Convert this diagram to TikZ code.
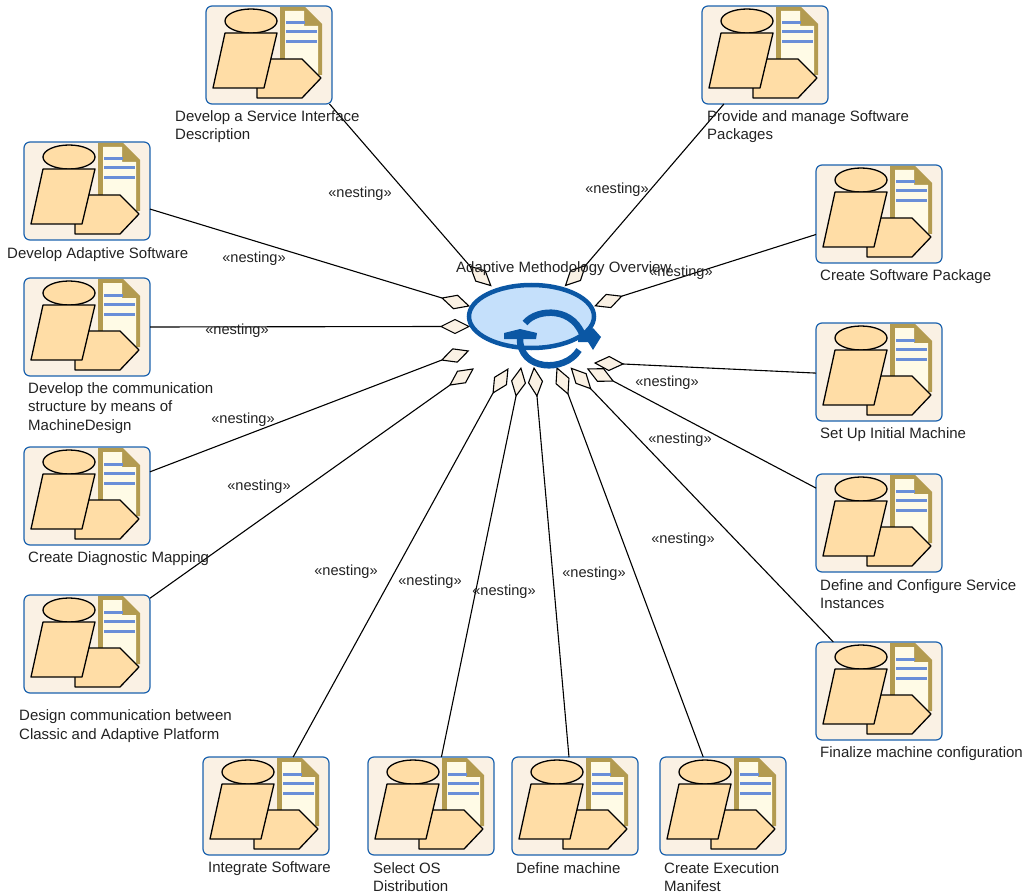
\documentclass[tikz,border=0pt]{standalone}
\usepackage{fontspec}
\setmainfont{Liberation Sans}
\usetikzlibrary{shapes.geometric}
\definecolor{boxfill}{HTML}{FAF1E4}
\definecolor{boxline}{HTML}{1B62AE}
\definecolor{peach}{HTML}{FFDDA6}
\definecolor{doctan}{HTML}{B39B50}
\definecolor{doccream}{HTML}{FFFBE6}
\definecolor{docblue}{HTML}{6A8FD8}
\definecolor{ovalfill}{HTML}{C5E0FB}
\definecolor{ovalline}{HTML}{0B57A4}
\definecolor{labeltext}{HTML}{222222}
\tikzset{
	taskbox/.style={draw=boxline, fill=boxfill, line width=1.2pt, rounded corners=6pt, anchor=north west, minimum width=126pt, minimum height=98pt, inner sep=0pt, outer sep=0pt},
	nestdiamond/.style={draw=black, fill=boxfill, diamond, line width=1.1pt, minimum width=28pt, minimum height=14pt, inner sep=0pt, outer sep=0pt},
	tasklabel/.style={anchor=west, align=left, inner sep=0pt, yshift=-1.8pt, text=labeltext, font=\fontsize{15}{18.5}\selectfont},
	nestlabel/.style={inner sep=0pt, yshift=-1.8pt, text=labeltext, font=\fontsize{14.6}{18.5}\selectfont},
	conn/.style={draw=black, line width=1.1pt},
	iconline/.style={draw=black, fill=peach, line width=1.3pt, line join=round}}

\begin{document}
\begin{tikzpicture}[x=1pt, y=-1pt]
		\useasboundingbox (0,0) rectangle (1030,893);
		
		%boxes
		\node[taskbox] (service) at (206,6) {};
		\node[taskbox] (provide) at (702,6) {};
		\node[taskbox] (adaptive) at (24,142) {};
		\node[taskbox] (pkg) at (816,165) {};
		\node[taskbox] (comm) at (24,278) {};
		\node[taskbox] (setup) at (816,323) {};
		\node[taskbox] (diag) at (24,447) {};
		\node[taskbox] (instances) at (816,474) {};
		\node[taskbox] (classic) at (24,595) {};
		\node[taskbox] (finalize) at (816,642) {};
		\node[taskbox] (integrate) at (203,757) {};
		\node[taskbox] (osdist) at (368,757) {};
		\node[taskbox] (machine) at (512,757) {};
		\node[taskbox] (manifest) at (660,757) {};
		
		%icons
		\foreach \n in {service,provide,adaptive,pkg,comm,setup,diag,instances,classic,finalize,integrate,osdist,machine,manifest}{
			\begin{scope}[shift={(\n.north west)}]
				\fill[doctan] (74,1) -- (99,1) -- (116,18) -- (116,69) -- (74,69) -- cycle;
				\fill[doccream] (79,5) -- (98,5) -- (98,20) -- (112,20) -- (112,69) -- (79,69) -- cycle;
				\draw[docblue, line width=3pt] (80,17) -- (99,17) (80,26) -- (111,26) (80,36) -- (111,36);
				\draw[iconline] (51,53) -- (96,53) -- (115,72) -- (96,92) -- (51,92) -- cycle;
				\draw[iconline] (45,15) ellipse [x radius=26, y radius=12];
				\draw[iconline] (19,27) -- (71,27) -- (58,82) -- (7,82) -- cycle;
			\end{scope}
		}
		
		%diamonds
		\node[nestdiamond, rotate=-43] (serviceD) at (480.5,276) {};
		\node[nestdiamond, rotate=225] (provideD) at (575.5,275.5) {};
		\node[nestdiamond, rotate=-16.5] (adaptiveD) at (455.5,302) {};
		\node[nestdiamond, rotate=200] (pkgD) at (608.5,301) {};
		\node[nestdiamond] (commD) at (455,326.5) {};
		\node[nestdiamond, rotate=178] (setupD) at (609,363.5) {};
		\node[nestdiamond, rotate=19] (diagD) at (455,355.5) {};
		\node[nestdiamond, rotate=154.4] (instancesD) at (600.5,375) {};
		\node[nestdiamond, rotate=35] (classicD) at (461.5,377) {};
		\node[nestdiamond, rotate=133.5] (finalizeD) at (581,378.5) {};
		\node[nestdiamond, rotate=58] (integrateD) at (500.5,381) {};
		\node[nestdiamond, rotate=80] (osdistD) at (518.5,382) {};
		\node[nestdiamond, rotate=96] (machineD) at (535.5,382) {};
		\node[nestdiamond, rotate=113] (manifestD) at (562.5,381) {};
		
		\draw[conn]
		(service.-39) -- (serviceD.west)
		(provide.-130.6) -- (provideD.west)
		(adaptive.-16.8) -- (adaptiveD.west)
		(pkg.198.4) -- (pkgD.west)
		(comm.0.5) -- (commD.west)
		(setup.181) -- (setupD.west)
		(diag.21.6) -- (diagD.west)
		(instances.151.6) -- (instancesD.west)
		(classic.36.1) -- (classicD.west)
		(finalize.133.8) -- (finalizeD.west)
		(integrate.61.1) -- (integrateD.west)
		(osdist.78.5) -- (osdistD.west)
		(machine.97) -- (machineD.west)
		(manifest.112.2) -- (manifestD.west);
		
		%oval
		\node[draw=ovalline, fill=ovalfill, ellipse, line width=4.5pt, minimum width=125pt, minimum height=63pt, inner sep=0pt, outer sep=0pt] (overview) at (531.5,316.5) {};
		\draw[ovalline, line width=6.5pt] (525,323) .. controls (537,308) and (576,306) .. (584,340);
		\draw[ovalline, line width=6.5pt] (579,350) .. controls (565,373) and (519,371) .. (520,338);
		\fill[ovalline] (578,337) -- (593,328) -- (601,337) -- (593,350) -- (588,342) -- (578,342) -- cycle;
		\fill[ovalline] (504,333) -- (520,329) -- (537,333) -- (536,339) -- (504,339) -- cycle;
		
		%labels
		\node[tasklabel] (overviewL) at (456,267) {Adaptive Methodology Overview};
		\node[tasklabel] (serviceL) at (175,125) {Develop a Service Interface\\Description};
		\node[tasklabel] (provideL) at (707,125) {Provide and manage Software\\Packages};
		\node[tasklabel] (adaptiveL) at (7,253) {Develop Adaptive Software};
		\node[tasklabel] (pkgL) at (820,275) {Create Software Package};
		\node[tasklabel] (commL) at (28,406) {Develop the communication\\structure by means of\\MachineDesign};
		\node[tasklabel] (setupL) at (820,433) {Set Up Initial Machine};
		\node[tasklabel] (diagL) at (28,557) {Create Diagnostic Mapping};
		\node[tasklabel] (instancesL) at (820,592.5) {Define and Configure Service\\Instances};
		\node[tasklabel] (classicL) at (19,724.5) {Design communication between\\Classic and Adaptive Platform};
		\node[tasklabel] (finalizeL) at (820,752) {Finalize machine configuration};
		\node[tasklabel] (integrateL) at (208,867) {Integrate Software};
		\node[tasklabel] (osdistL) at (373,875.5) {Select OS\\Distribution};
		\node[tasklabel] (machineL) at (516,866.5) {Define machine};
		\node[tasklabel] (manifestL) at (664,875.5) {Create Execution\\Manifest};
		
		\node[nestlabel] (n1) at (360,192) {«nesting»};
		\node[nestlabel] (n2) at (617,188) {«nesting»};
		\node[nestlabel] (n3) at (254,257) {«nesting»};
		\node[nestlabel] (n4) at (681,271) {«nesting»};
		\node[nestlabel] (n5) at (237,329) {«nesting»};
		\node[nestlabel] (n6) at (667,381) {«nesting»};
		\node[nestlabel] (n7) at (243,418) {«nesting»};
		\node[nestlabel] (n8) at (680,438) {«nesting»};
		\node[nestlabel] (n9) at (259,485) {«nesting»};
		\node[nestlabel] (n10) at (683,538) {«nesting»};
		\node[nestlabel] (n11) at (346,570) {«nesting»};
		\node[nestlabel] (n12) at (430,580) {«nesting»};
		\node[nestlabel] (n13) at (504,590) {«nesting»};
		\node[nestlabel] (n14) at (594,572) {«nesting»};
	\end{tikzpicture}
\end{document}
